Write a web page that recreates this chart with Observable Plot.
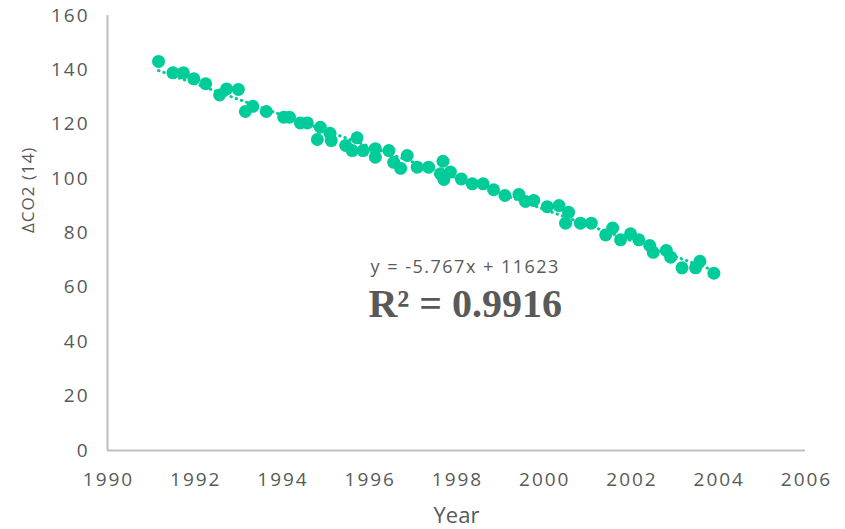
<!DOCTYPE html>
<html>
<head>
<meta charset="utf-8">
<script src="https://cdn.jsdelivr.net/npm/d3@7"></script>
<script src="https://cdn.jsdelivr.net/npm/@observablehq/plot@0.6"></script>
<style>
  html, body { margin: 0; padding: 0; background: #fff; }
  #chart svg { display: block; }
  #chart svg g[aria-label="x-axis tick label"] text,
  #chart svg g[aria-label="y-axis tick label"] text { letter-spacing: 2px; }
</style>
</head>
<body>
<div id="chart"></div>
<script>
const years = [1991.17,1991.50,1991.74,1991.98,1992.25,1992.57,1992.73,1993.00,1993.16,1993.33,1993.64,1994.04,1994.17,
  1994.42,1994.58,1994.88,1994.81,1995.10,1995.13,1995.46,1995.72,1995.61,1995.86,1996.14,1996.14,1996.45,1996.56,
  1996.87,1996.72,1997.10,1997.36,1997.69,1997.63,1997.86,1997.71,1998.11,1998.36,1998.61,1998.85,1999.11,1999.43,
  1999.58,1999.77,2000.08,2000.35,2000.57,2000.50,2000.84,2001.09,2001.42,2001.58,2001.76,2001.99,2002.18,2002.43,
  2002.51,2002.81,2002.91,2003.17,2003.48,2003.58,2003.90];
const dco2 = [143.1,138.9,138.9,136.7,134.9,130.8,133.0,132.8,124.7,126.6,124.7,122.6,122.6,
  120.5,120.5,118.9,114.4,116.7,114.0,112.2,115.0,110.3,110.3,111.0,107.9,110.3,106.0,
  108.5,103.8,104.2,104.2,106.4,101.8,102.4,99.7,99.9,98.1,98.1,95.9,93.8,94.2,
  91.6,92.0,89.7,90.1,87.6,83.6,83.6,83.6,79.3,81.8,77.5,79.7,77.5,75.4,
  72.9,73.6,71.1,67.2,67.2,69.6,65.2];
const xTicks = [1990,1992,1994,1996,1998,2000,2002,2004,2006];
const yTicks = [0,20,40,60,80,100,120,140,160];
const equationText = "y = -5.767x + 11623";
const r2Text = "R² = 0.9916";

const data = years.map((x, i) => ({year: x, value: dco2[i]}));
const green = "#00cc99";
const gray = "#595959";

const chart = Plot.plot({
  width: 845,
  height: 529,
  marginLeft: 107,
  marginRight: 40,
  marginTop: 15,
  marginBottom: 79,
  style: {fontFamily: "'Open Sans', sans-serif", color: gray, background: "#fff"},
  x: {domain: [1990, 2006], ticks: xTicks, tickFormat: d => String(d)},
  y: {domain: [0, 160], ticks: yTicks},
  marks: [
    Plot.ruleY([0], {stroke: "#bfbfbf", strokeWidth: 2}),
    Plot.ruleX([1990], {stroke: "#bfbfbf", strokeWidth: 2}),
    Plot.axisX({ticks: xTicks, tickSize: 0, tickPadding: 22, fontSize: 19, fill: gray, tickFormat: d => String(d), label: null, dx: 1}),
    Plot.axisY({ticks: yTicks, tickSize: 0, tickPadding: 18, fontSize: 19, fill: gray, label: null}),
    Plot.text(["Year"], {frameAnchor: "bottom", dy: 72, fontSize: 22, fill: gray, style: "letter-spacing:1.5px"}),
    Plot.text(["ΔCO2 (14)"], {frameAnchor: "left", dx: -79, rotate: -90, fontSize: 17, fill: gray}),
    Plot.linearRegressionY(data, {x: "year", y: "value", ci: 0, stroke: green, strokeWidth: 3, strokeDasharray: "0.5,5", strokeLinecap: "round"}),
    Plot.dot(data, {x: "year", y: "value", r: 6.5, fill: green, stroke: "none"}),
    Plot.text([equationText], {x: 1998.2, y: 67.3, fontSize: 18, fill: gray, fontFamily: "'Open Sans', sans-serif"}),
    Plot.text([r2Text], {x: 1998.2, y: 54, fontSize: 40, fontWeight: "bold", fill: gray, fontFamily: "'Liberation Serif', serif"})
  ]
});
chart.querySelectorAll("text").forEach(t => {
  if (t.textContent === equationText) t.setAttribute("letter-spacing", "1.5");
  if (t.textContent === "ΔCO2 (14)") t.setAttribute("letter-spacing", "1");
});
document.getElementById("chart").appendChild(chart);
</script>
</body>
</html>
